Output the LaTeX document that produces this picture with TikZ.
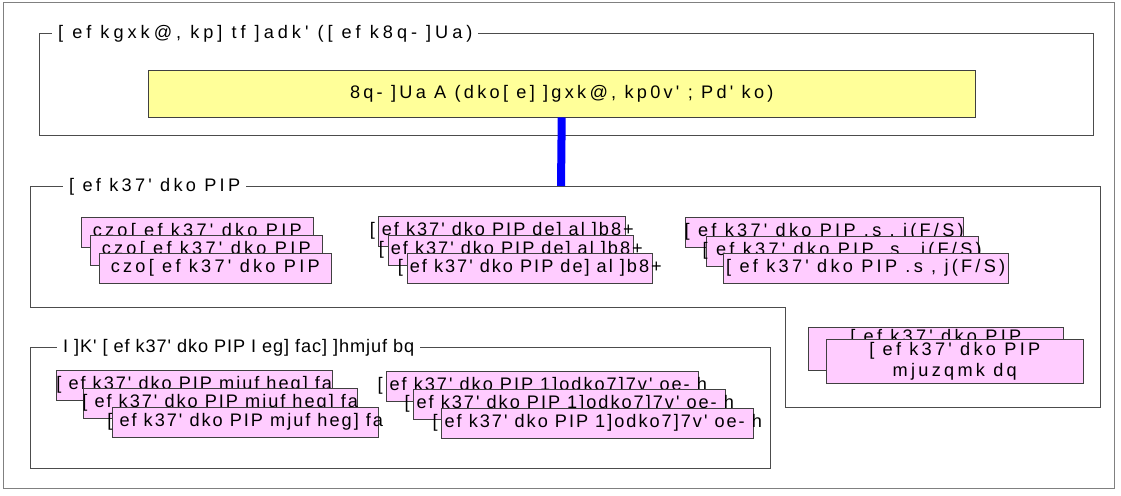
\documentclass[tikz,border=0pt]{standalone}
\usepackage{fontspec}
\newfontfamily\garb[LetterSpace=18]{Liberation Sans}
\newfontfamily\garbw[LetterSpace=22]{Liberation Sans}
\newfontfamily\garbt[LetterSpace=11]{Liberation Sans}
\newfontfamily\garbx[LetterSpace=5]{Liberation Sans}
\definecolor{pinkfill}{HTML}{FFCCFF}
\definecolor{yellowfill}{HTML}{FFFF99}
\newcommand{\ovr}[1]{\makebox[0pt]{#1}}
\begin{document}
\begin{tikzpicture}[x=0.03cm,y=-0.03cm,
    pinkbox/.style 2 args={draw=black!75, fill=pinkfill, anchor=north west, inner sep=0pt,
      minimum width=#1*0.03cm, minimum height=#2*0.03cm, align=center,
      font=\garb\fontsize{15.5}{18.5}\selectfont},
    yellowbox/.style ={draw=black!75, fill=yellowfill, anchor=north west, inner sep=0pt,
      minimum width=827*0.03cm, minimum height=47*0.03cm,
      font=\garb\fontsize{15.5}{18.5}\selectfont},
    grouptitle/.style ={fill=white, anchor=west, inner xsep=0.18cm, inner ysep=1pt,
      font=\garb\fontsize{15.5}{18.5}\selectfont},
    frame/.style ={draw=black!70}]
   \useasboundingbox (0,0) rectangle (1121,495);
   \draw[black!50, fill=white] (3,2) rectangle (1114,488);
   % top group
   \draw[frame] (39,33) rectangle (1093,135);
   \node[grouptitle] (T1) at (52,34) {\garbw [ ef kgxk@, kp] tf ]adk'  ([ ef k8q- ]Ua)};
   \node[yellowbox] (Y) at (148,70) {8q- ]Ua A (dko[ e] ]gxk@, kp0v' ; Pd' ko)};
   % second group
   \draw[frame] (30,186) -- (1100,186) -- (1100,407) -- (785,407) -- (785,307) -- (30,307) -- cycle;
   \node[grouptitle] (T2) at (63,187) {[ ef k37' dko  PIP};
   \coordinate (G2) at (561,186);
   \draw[blue, line width=0.24cm] (Y.south) -- (G2);
   \node[pinkbox={232}{30}] (A1) at (81,217) {\ovr{czo[ ef k37' dko PIP}};
   \node[pinkbox={232}{30}] (A2) at (90,235) {\ovr{czo[ ef k37' dko PIP}};
   \node[pinkbox={232}{30}] (A3) at (99,253) {\ovr{czo[ ef k37' dko PIP}};
   \node[pinkbox={247}{30}] (B1) at (378,216) {\ovr{\garbt [ ef k37' dko  PIP de] al ]b8+}};
   \node[pinkbox={245}{30}] (B2) at (388,235) {\ovr{\garbt [ ef k37' dko  PIP de] al ]b8+}};
   \node[pinkbox={245}{30}] (B3) at (407,253) {\ovr{\garbt [ ef k37' dko  PIP de] al ]b8+}};
   \node[pinkbox={278}{30}] (C1) at (685,217) {\ovr{[ ef k37' dko  PIP .s , j(F/S)}};
   \node[pinkbox={272}{30}] (C2) at (706,236) {\ovr{[ ef k37' dko  PIP .s , j(F/S)}};
   \node[pinkbox={285}{30}] (C3) at (723,253) {\ovr{[ ef k37' dko PIP .s , j(F/S)}};
   \node[pinkbox={255}{43}] (F1) at (808,327) {[ ef k37' dko  PIP\\ mjuzqmk dq};
   \node[pinkbox={257}{44}] (F2) at (826,339) {[ ef k37' dko  PIP\\ mjuzqmk dq};
   % third group
   \draw[frame] (30,347) rectangle (770,468);
   \node[grouptitle] (T3) at (57,348) {\garbx I ]K' [ ef k37' dko PIP I eg] fac] ]hmjuf bq};
   \node[pinkbox={276}{30}] (D1) at (56,370) {\ovr{\garbt [ ef k37' dko PIP mjuf heg] fa}};
   \node[pinkbox={274}{30}] (D2) at (83,388) {\ovr{\garbt [ ef k37' dko PIP mjuf heg] fa}};
   \node[pinkbox={266}{30}] (D3) at (112,407) {\ovr{\garbt [ ef k37' dko PIP mjuf heg] fa}};
   \node[pinkbox={312}{30}] (E1) at (386,371) {\ovr{\garbt [ ef k37' dko  PIP 1]odko7]7v' oe- h}};
   \node[pinkbox={312}{30}] (E2) at (413,389) {\ovr{\garbt [ ef k37' dko  PIP 1]odko7]7v' oe- h}};
   \node[pinkbox={312}{30}] (E3) at (441,408) {\ovr{\garbt [ ef k37' dko  PIP 1]odko7]7v' oe- h}};
 \end{tikzpicture}
\end{document}
